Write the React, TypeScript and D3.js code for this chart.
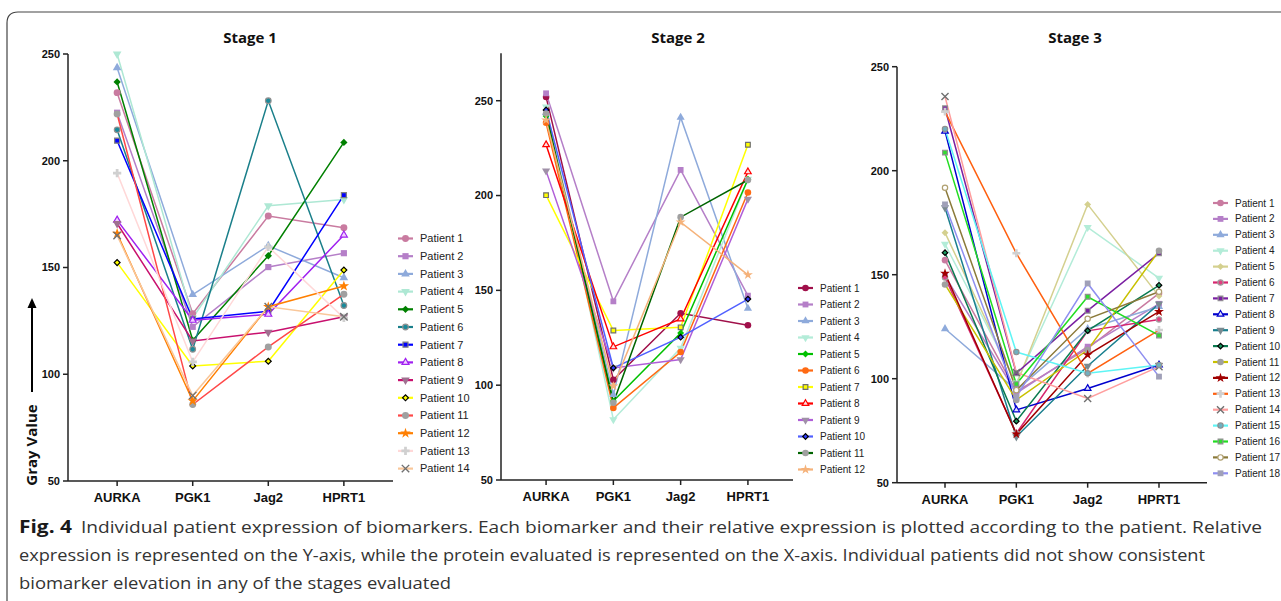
import React from 'react';
import * as d3 from 'd3';

const genes = ['AURKA', 'PGK1', 'Jag2', 'HPRT1'];
const yTicks = [50, 100, 150, 200, 250];

const stage1Values = [
  [231.9, 128.4, 174.1, 168.6],
  [222.5, 122.2, 150.2, 156.7],
  [243.6, 137.3, 160.2, 145.2],
  [250, 126.4, 178.9, 181.9],
  [236.9, 115.9, 155.5, 208.6],
  [214.5, 111.7, 228.1, 132.2],
  [209.4, 125.9, 129.5, 183.9],
  [172.2, 125.3, 128.1, 165.2],
  [170.6, 115.6, 119.7, 126.9],
  [152.3, 103.9, 106.1, 148.8],
  [221.9, 85.8, 112.8, 137.5],
  [165.9, 87.5, 131.6, 141.3],
  [194.2, 105.8, 159.7, 126.4],
  [165, 90, 131.6, 126.9],
];
const stage1Lines = ['#c97ba0', '#b57fc8', '#8eaadb', '#aee8d4', '#008000', '#1a7f8a', '#0000ff', '#a020f0', '#c8106e', '#ffff00', '#ff4848', '#ff7f00', '#ffd8d8', '#f9c79a'];
const stage1Marks = ['circle', 'square', 'triUp', 'triDown', 'diamond', 'circle', 'square', 'triUp', 'triDown', 'diamond', 'circle', 'star', 'plus', 'x'];
const stage1Fills = ['#c97ba0', '#b57fc8', '#8eaadb', '#aee8d4', '#008000', '#1a8a9a', '#0000ff', '#f0d0ff', '#a07090', '#ffff00', '#a0a0a0', '#ff7f00', '#d0d0d0', '#707070'];
const stage1Strokes = ['none', 'none', 'none', 'none', 'none', '#909090', '#808080', '#a020f0', 'none', '#000000', 'none', 'none', 'none', '#707070'];

const stage2Values = [
  [252, 102.9, 137.9, 131.6],
  [253.9, 144.2, 213.5, 147.2],
  [243.7, 95, 241.2, 140.5],
  [246.8, 81.9, 119.6, 208.6],
  [241.9, 91.6, 127.5, 208.6],
  [238.4, 88, 117.5, 201.6],
  [200.2, 128.8, 130.5, 226.8],
  [226.8, 120.2, 134.9, 212.5],
  [213, 109.1, 113.5, 198.1],
  [245.1, 109.1, 125.3, 145.4],
  [243.3, 90.7, 188.6, 208.2],
  [239.8, 99.5, 186, 158.2],
];
const stage2Lines = ['#a0104a', '#b57fc8', '#8eaadb', '#b3ecd8', '#00c000', '#ff6a13', '#ffff00', '#ff0000', '#b05fd8', '#5060ff', '#006400', '#f5b27a'];
const stage2Marks = ['circle', 'square', 'triUp', 'triDown', 'diamond', 'circle', 'square', 'triUp', 'triDown', 'diamond', 'circle', 'star'];
const stage2Fills = ['#a0104a', '#b57fc8', '#8eaadb', '#b3ecd8', '#00c000', '#ff6a13', '#ffff00', '#ffe0e0', '#a090a8', '#3040ff', '#a0a0a0', '#f5b27a'];
const stage2Strokes = ['none', 'none', 'none', 'none', 'none', 'none', '#707070', '#ff0000', 'none', '#000000', 'none', 'none'];

const stage3Values = [
  [157, 93.8, 114.6, 141],
  [149.4, 93, 115.4, 136],
  [124, 94.5, 124, 134.6],
  [164.7, 98, 172.8, 148.4],
  [170.2, 97, 183.8, 139.7],
  [148.7, 73.7, 123, 128.5],
  [230, 102.6, 132.7, 160.3],
  [219, 85, 95.3, 106.6],
  [182.2, 72.1, 106.1, 136],
  [160.6, 79.6, 123.1, 144.9],
  [145.3, 89.8, 113.8, 161.5],
  [150.6, 73.4, 111.5, 132.2],
  [228.4, 160.3, 102.5, 123.4],
  [235.7, 103, 90.5, 105.8],
  [220, 112.8, 102.6, 106.6],
  [208.7, 97.4, 139.4, 120.8],
  [191.8, 94.5, 128.8, 141.8],
  [183.8, 91.3, 145.8, 101],
];
const stage3Lines = ['#c97ba0', '#b57fc8', '#8eaadb', '#b3ecd8', '#d4d08f', '#d6266e', '#7a1fa2', '#0000cd', '#1a7f8e', '#0a7a50', '#c8c000', '#a00000', '#ff6010', '#ff9e9e', '#5ef5f5', '#22dd22', '#8b7a3a', '#8f8ff0'];
const stage3Marks = ['circle', 'square', 'triUp', 'triDown', 'diamond', 'circle', 'square', 'triUp', 'triDown', 'diamond', 'circle', 'star', 'plus', 'x', 'circle', 'square', 'circle', 'square'];
const stage3Fills = ['#c97ba0', '#b57fc8', '#8eaadb', '#b3ecd8', '#d4d08f', '#e04080', '#7a1fa2', '#e0e0ff', '#7a8a90', '#1a9a60', '#a0a0a0', '#a00000', '#d0d0d0', '#707070', '#70b0c0', '#30dd30', '#ffffff', '#a0a0b8'];
const stage3Strokes = ['none', 'none', 'none', 'none', 'none', '#a0a0a0', '#909090', '#0000cd', 'none', '#000000', 'none', 'none', 'none', '#707070', '#909090', '#909090', '#b0a070', 'none'];

const captionLines = [
  'Individual patient expression of biomarkers. Each biomarker and their relative expression is plotted according to the patient. Relative',
  'expression is represented on the Y-axis, while the protein evaluated is represented on the X-axis. Individual patients did not show consistent',
  'biomarker elevation in any of the stages evaluated',
];

const symbolMap: any = {
  circle: d3.symbolCircle,
  square: d3.symbolSquare,
  triUp: d3.symbolTriangle,
  triDown: d3.symbolTriangle,
  diamond: d3.symbolSquare,
  star: d3.symbolStar,
  plus: d3.symbolCross,
  x: (d3 as any).symbolTimes || d3.symbolCross,
};

function Marker({ type, x, y, fill, stroke, size }: any) {
  const hasStroke = stroke !== 'none';
  let s = size;
  if (type === 'diamond') s = size * 0.7;
  if (type === 'triUp' || type === 'triDown') s = size * 0.85;
  if (type === 'star') s = size * 0.9;
  if (hasStroke && type !== 'x') s = s * 0.65;
  const d = d3.symbol(symbolMap[type], s)() || '';
  const rot = type === 'triDown' ? 180 : type === 'diamond' ? 45 : type === 'x' && !(d3 as any).symbolTimes ? 45 : 0;
  if (type === 'x') {
    return <path d={d} transform={`translate(${x},${y}) rotate(${rot})`} fill="none" stroke={fill} strokeWidth={1.4} />;
  }
  return (
    <path
      d={d}
      transform={`translate(${x},${y}) rotate(${rot})`}
      fill={fill}
      stroke={hasStroke ? stroke : 'none'}
      strokeWidth={hasStroke ? 1.2 : 0}
    />
  );
}

function Panel({ cfg }: any) {
  const x = d3.scalePoint<string>().domain(genes).range(cfg.xRange).padding(cfg.pad);
  const y = d3.scaleLinear().domain(cfg.yDomain).range(cfg.yRange);
  const line = d3
    .line<number>()
    .x((_, i) => x(genes[i]) as number)
    .y((v) => y(v));
  const axisColor = '#222';
  const y0 = y(cfg.yDomain[0]);
  return (
    <g>
      <text x={cfg.titleX} y={43} textAnchor="middle" fontFamily="'Open Sans', sans-serif" fontWeight={700} fontSize={15} fill="#111">
        {cfg.title}
      </text>
      {cfg.values.map((vals: number[], i: number) => (
        <path key={'l' + i} d={line(vals) || ''} fill="none" stroke={cfg.lines[i]} strokeWidth={1.5} />
      ))}
      {cfg.values.map((vals: number[], i: number) =>
        vals.map((v, j) => (
          <Marker key={'m' + i + '-' + j} type={cfg.marks[i]} x={x(genes[j])} y={y(v)} fill={cfg.fills[i]} stroke={cfg.strokes[i]} size={cfg.msize} />
        ))
      )}
      <line x1={cfg.xRange[0]} x2={cfg.xRange[0]} y1={y0} y2={cfg.yRange[1]} stroke={axisColor} strokeWidth={1.5} />
      <line x1={cfg.xRange[0]} x2={cfg.xRange[1]} y1={y0} y2={y0} stroke={axisColor} strokeWidth={1.5} />
      {yTicks.map((t) => (
        <g key={'yt' + t}>
          <line x1={cfg.xRange[0] - 5} x2={cfg.xRange[0]} y1={y(t)} y2={y(t)} stroke={axisColor} strokeWidth={1.5} />
          <text x={cfg.xRange[0] - 8} y={y(t)} dy="0.35em" textAnchor="end" fontFamily="'Liberation Sans', Arial, sans-serif" fontWeight={700} fontSize={11} fill="#111">
            {t}
          </text>
        </g>
      ))}
      {genes.map((g) => (
        <g key={'xt' + g}>
          <line x1={x(g)} x2={x(g)} y1={y0} y2={y0 + 5} stroke={axisColor} strokeWidth={1.5} />
          <text x={x(g)} y={y0 + 21} textAnchor="middle" fontFamily="'Liberation Sans', Arial, sans-serif" fontWeight={700} fontSize={13} fill="#111">
            {g}
          </text>
        </g>
      ))}
      {cfg.values.map((_: any, i: number) => {
        const ly = cfg.legY + i * cfg.legStep;
        const lx = cfg.legX;
        return (
          <g key={'lg' + i}>
            <line x1={lx} x2={lx + 15} y1={ly} y2={ly} stroke={cfg.lines[i]} strokeWidth={2.2} />
            <Marker type={cfg.marks[i]} x={lx + 7.5} y={ly} fill={cfg.fills[i]} stroke={cfg.strokes[i]} size={cfg.msize} />
            <text x={lx + 22} y={ly} dy="0.35em" fontFamily="'Liberation Sans', Arial, sans-serif" fontSize={cfg.legFont} fill="#222">
              {'Patient ' + (i + 1)}
            </text>
          </g>
        );
      })}
    </g>
  );
}

const panels = [
  {
    title: 'Stage 1', titleX: 250, xRange: [68, 393], pad: 0.65, yDomain: [50, 250], yRange: [481, 54],
    values: stage1Values, lines: stage1Lines, marks: stage1Marks, fills: stage1Fills, strokes: stage1Strokes,
    legX: 398, legY: 238.5, legStep: 17.7, legFont: 11, msize: 38,
  },
  {
    title: 'Stage 2', titleX: 678, xRange: [501, 793], pad: 0.67, yDomain: [50, 275], yRange: [480, 53.3],
    values: stage2Values, lines: stage2Lines, marks: stage2Marks, fills: stage2Fills, strokes: stage2Strokes,
    legX: 798, legY: 288, legStep: 16.5, legFont: 10, msize: 34,
  },
  {
    title: 'Stage 3', titleX: 1075, xRange: [897, 1207], pad: 0.673, yDomain: [50, 250], yRange: [482.7, 66.7],
    values: stage3Values, lines: stage3Lines, marks: stage3Marks, fills: stage3Fills, strokes: stage3Strokes,
    legX: 1213, legY: 203, legStep: 15.9, legFont: 10, msize: 34,
  },
];

export default function App() {
  return (
    <svg width={1281} height={601} style={{ position: 'absolute', left: 0, top: 0, background: '#fff' }}>
      <rect x={0} y={0} width={1281} height={601} fill="#fff" />
      <path d="M7,601 L7,23 Q7,12 18,12 L1281,12" fill="none" stroke="#444" strokeWidth={1.2} />
      {panels.map((p) => (
        <Panel key={p.title} cfg={p} />
      ))}
      <line x1={32} x2={32} y1={392} y2={306} stroke="#000" strokeWidth={2} />
      <path d="M32,298 L27.5,308 L36.5,308 Z" fill="#000" />
      <text transform="translate(37,445) rotate(-90)" textAnchor="middle" fontFamily="'Open Sans', sans-serif" fontWeight={700} fontSize={15} fill="#111">
        Gray Value
      </text>
      <text x={19} y={533} fontFamily="'Open Sans', sans-serif" fontWeight={700} fontSize={17} fill="#1a1a1a" textLength={53} lengthAdjust="spacingAndGlyphs">
        Fig. 4
      </text>
      <text x={81} y={533} fontFamily="'Open Sans', sans-serif" fontSize={17} fill="#333" textLength={1181} lengthAdjust="spacingAndGlyphs">
        {captionLines[0]}
      </text>
      <text x={19} y={561} fontFamily="'Open Sans', sans-serif" fontSize={17} fill="#333" textLength={1186} lengthAdjust="spacingAndGlyphs">
        {captionLines[1]}
      </text>
      <text x={19} y={589} fontFamily="'Open Sans', sans-serif" fontSize={17} fill="#333" textLength={432} lengthAdjust="spacingAndGlyphs">
        {captionLines[2]}
      </text>
    </svg>
  );
}
